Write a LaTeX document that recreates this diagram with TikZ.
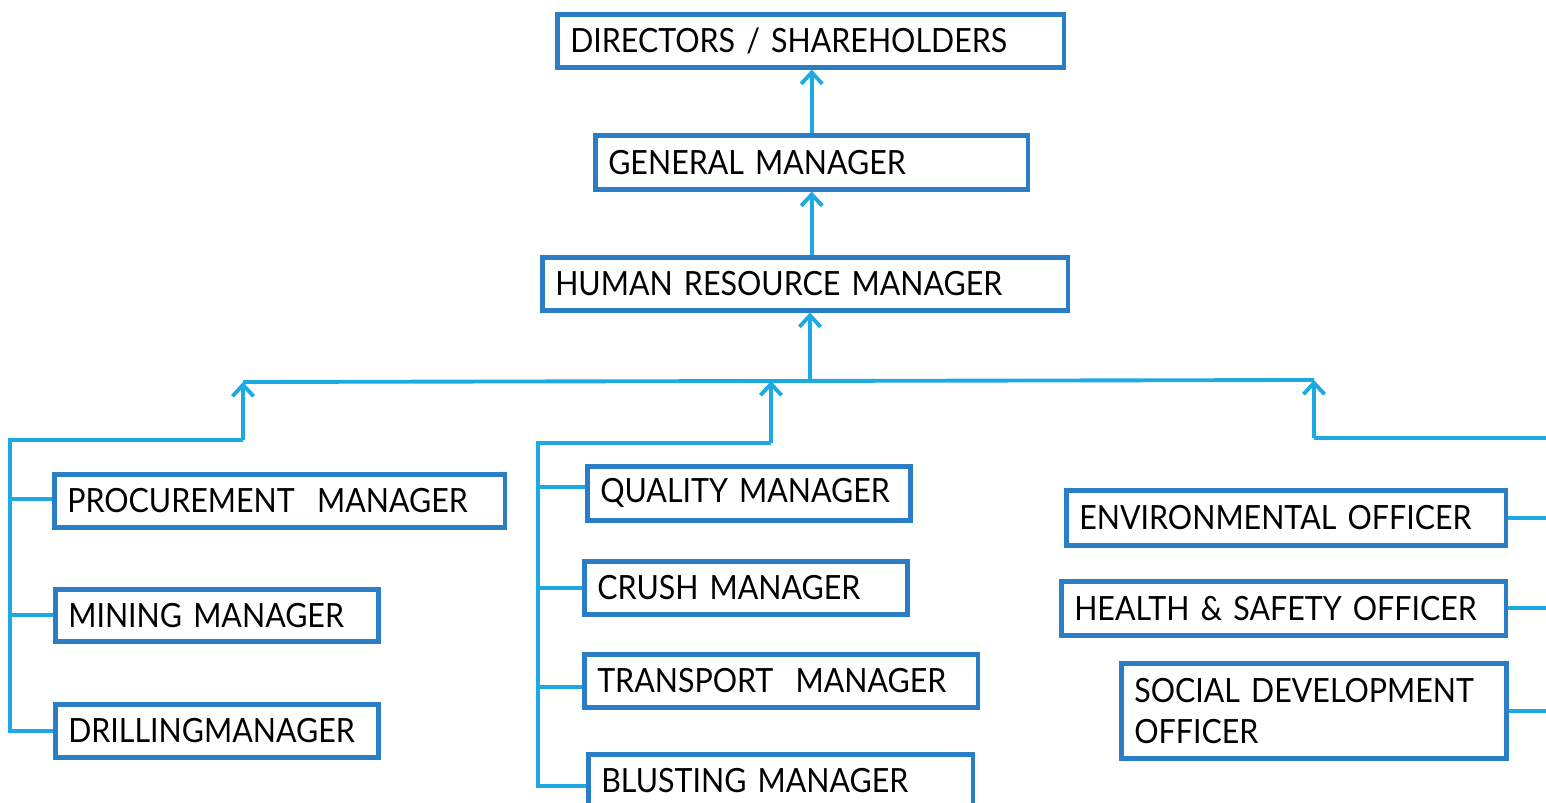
\documentclass[tikz,border=0pt]{standalone}
\usepackage{fontspec}
\setmainfont[FakeStretch=0.91]{Lato}
\usetikzlibrary{arrows.meta,calc}
\definecolor{boxblue}{RGB}{42,126,198}
\definecolor{linkblue}{RGB}{29,169,225}
\newcommand{\orgboxfont}{\fontsize{19pt}{23.3pt}\selectfont\hyphenpenalty=10000 \exhyphenpenalty=10000 }
\begin{document}
\begin{tikzpicture}[x=0.02cm,y=-0.02cm,
  box/.style={draw=boxblue, line width=2.6pt, anchor=north west, inner xsep=0.26cm, inner ysep=0pt,
    align=left, font=\orgboxfont},
  conn/.style={draw=linkblue, line width=2.2pt},
  arr/.style={conn, -{Straight Barb[length=6.5pt,width=12pt]}}]
\useasboundingbox (0,0) rectangle (1546,803);
\node[box, text width=9.62cm, minimum height=1.06cm] (dir) at (555,12) {DIRECTORS / SHAREHOLDERS};
\node[box, text width=8.14cm, minimum height=1.08cm] (gm) at (593,133) {GENERAL MANAGER};
\node[box, text width=10.0cm, minimum height=1.06cm] (hrm) at (540,255) {HUMAN RESOURCE MANAGER};
\node[box, text width=8.50cm, minimum height=1.06cm] (proc) at (52,472) {PROCUREMENT\ \ MANAGER};
\node[box, text width=5.94cm, minimum height=1.04cm] (mine) at (53,587) {MINING MANAGER};
\node[box, text width=5.94cm, minimum height=1.06cm] (drill) at (53,702) {DRILLINGMANAGER};
\node[box, text width=5.94cm, minimum height=1.08cm] (qual) at (585,464) {QUALITY MANAGER};
\node[box, text width=5.94cm, minimum height=1.06cm] (crush) at (582,559) {CRUSH MANAGER};
\node[box, text width=7.36cm, minimum height=1.06cm] (trans) at (582,652) {TRANSPORT\ \ MANAGER};
\node[box, text width=7.18cm, minimum height=1.06cm] (blust) at (586,752) {BLUSTING MANAGER};
\node[box, text width=8.28cm, minimum height=1.10cm] (env) at (1064,488) {ENVIRONMENTAL OFFICER};
\node[box, text width=8.38cm, minimum height=1.08cm] (hs) at (1059,579) {HEALTH \& SAFETY OFFICER};
\node[box, text width=7.18cm, minimum height=1.90cm] (soc) at (1119,661) {SOCIAL DEVELOPMENT\\OFFICER};
% top arrows
\draw[arr] (gm.north) -- (gm.north |- dir.south);
\draw[arr] (hrm.north -| gm.south) -- (gm.south);
\coordinate (bus) at (810,381);
\draw[arr] (bus) -- (bus |- hrm.south);
\coordinate (busL) at (243,382);
\coordinate (busR) at (1314,380);
\draw[conn] (busL) -- (busR);
% left group
\coordinate (L1) at (243,440);
\coordinate (L0) at (10,440);
\draw[arr] (L1) -- (busL);
\draw[conn] (L1) -- (L0) -- (L0 |- drill.west) -- (drill.west);
\draw[conn] ($(L0 |- proc.west)+(0,-2)$) -- ($(proc.west)+(0,-2)$);
\draw[conn] (L0 |- mine.west) -- (mine.west);
% middle group
\coordinate (M1) at (771,443);
\coordinate (M0) at (538,443);
\coordinate (bb) at (586,786);
\draw[arr] (M1) -- (M1 |- bus);
\draw[conn] (M1) -- (M0) -- (M0 |- bb) -- (bb);
\draw[conn] ($(M0 |- qual.west)+(0,-6)$) -- ($(qual.west)+(0,-6)$);
\draw[conn] (M0 |- crush.west) -- (crush.west);
\draw[conn] ($(M0 |- trans.west)+(0,6)$) -- ($(trans.west)+(0,6)$);
% right group
\coordinate (R1) at (1314,438);
\coordinate (R0) at (1550,438);
\draw[arr] (R1) -- (busR);
\draw[conn] (R1) -- (R0) -- (R0 |- soc.east);
\draw[conn] (env.east) -- (env.east -| R0);
\draw[conn] (hs.east) -- (hs.east -| R0);
\draw[conn] (soc.east) -- (soc.east -| R0);
\end{tikzpicture}
\end{document}
